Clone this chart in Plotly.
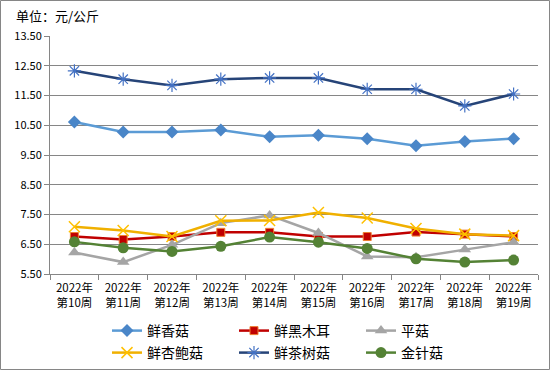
import plotly.graph_objects as go

categories = ["2022年<br>第10周", "2022年<br>第11周", "2022年<br>第12周", "2022年<br>第13周", "2022年<br>第14周",
              "2022年<br>第15周", "2022年<br>第16周", "2022年<br>第17周", "2022年<br>第18周", "2022年<br>第19周"]

xianxianggu = [10.61, 10.27, 10.27, 10.34, 10.11, 10.16, 10.05, 9.81, 9.95, 10.05]
heimuer = [6.76, 6.66, 6.76, 6.90, 6.90, 6.76, 6.76, 6.91, 6.84, 6.76]
pinggu = [6.22, 5.90, 6.48, 7.21, 7.47, 6.88, 6.09, 6.06, 6.32, 6.57]
xingbaogu = [7.09, 6.96, 6.76, 7.29, 7.30, 7.57, 7.38, 7.03, 6.84, 6.79]
chashugu = [12.33, 12.05, 11.84, 12.05, 12.09, 12.09, 11.71, 11.71, 11.15, 11.55]
jinzhengu = [6.58, 6.38, 6.26, 6.43, 6.74, 6.57, 6.36, 6.01, 5.90, 5.97]

y_ticks = [5.5, 6.5, 7.5, 8.5, 9.5, 10.5, 11.5, 12.5, 13.5]

series = [
    ("鲜香菇", xianxianggu, "#5B9BD5", dict(symbol="diamond", size=10, color="#4A86C8"), "legend"),
    ("鲜黑木耳", heimuer, "#C00000", dict(symbol="square", size=8, color="#C00000", line=dict(color="#ED7D31", width=1)), "legend"),
    ("平菇", pinggu, "#A5A5A5", dict(symbol="triangle-up", size=11, color="#A5A5A5"), "legend"),
    ("鲜杏鲍菇", xingbaogu, "#F0B000", dict(symbol="x-thin-open", size=11, color="#FFC000", line=dict(color="#FFC000", width=1.5)), "legend2"),
    ("鲜茶树菇", chashugu, "#264478", dict(symbol="asterisk-open", size=11, color="#4472C4", line=dict(color="#4472C4", width=1.2)), "legend2"),
    ("金针菇", jinzhengu, "#548235", dict(symbol="circle", size=11, color="#548235"), "legend2"),
]

fig = go.Figure()
for name, vals, col, mk, lg in series:
    fig.add_trace(go.Scatter(x=categories, y=vals, name=name, mode="lines+markers",
                             line=dict(color=col, width=2.5), marker=mk, legend=lg))

W, H = 550, 370
L, R, T, B = 50, 12, 36, 96
pw, ph = W - L - R, H - T - B

def px(xp):
    return (xp - L) / pw

def py(yp):
    return (H - B - yp) / ph

leg_common = dict(orientation="h", xanchor="left", yanchor="middle",
                  font=dict(size=14), entrywidth=82, entrywidthmode="pixels",
                  bgcolor="rgba(0,0,0,0)", itemwidth=30, tracegroupgap=0)

fig.update_layout(
    width=W, height=H,
    margin=dict(l=L, r=R, t=T, b=B, autoexpand=False),
    paper_bgcolor="white", plot_bgcolor="white",
    font=dict(family="Noto Sans CJK SC", size=11, color="black"),
    showlegend=True,
    legend=dict(x=px(107), y=py(331), **leg_common),
    legend2=dict(x=px(107), y=py(353), **leg_common),
    xaxis=dict(type="category", range=[-0.5, len(categories) - 0.5], showgrid=False, showline=True,
               linecolor="#868686", linewidth=1,
               ticks="outside", ticklen=5, tickcolor="#868686", tickson="boundaries",
               tickangle=0, tickfont=dict(size=11.5), ticklabelstandoff=3,
               zeroline=False, automargin=False),
    yaxis=dict(range=[5.5, 13.5], tickvals=y_ticks, tickformat=".2f", showgrid=True,
               gridcolor="#868686", gridwidth=1, showline=True, linecolor="#868686", linewidth=1,
               ticks="outside", ticklen=5, tickcolor="#868686", tickfont=dict(size=11),
               zeroline=False, automargin=False),
    annotations=[dict(text="单位：元/公斤", xref="paper", yref="paper", x=px(14), y=py(15),
                      xanchor="left", yanchor="middle", showarrow=False, font=dict(size=13))],
    shapes=[dict(type="rect", xref="paper", yref="paper", x0=px(0.5), x1=px(549.5), y0=py(369.5), y1=py(0.5),
                 line=dict(color="#868686", width=1), layer="below")],
)

fig.write_html("out.html", config={"displayModeBar": False},
               post_script="document.body.style.margin='0';document.body.style.padding='0';document.body.style.overflow='hidden';document.documentElement.style.overflow='hidden';")
